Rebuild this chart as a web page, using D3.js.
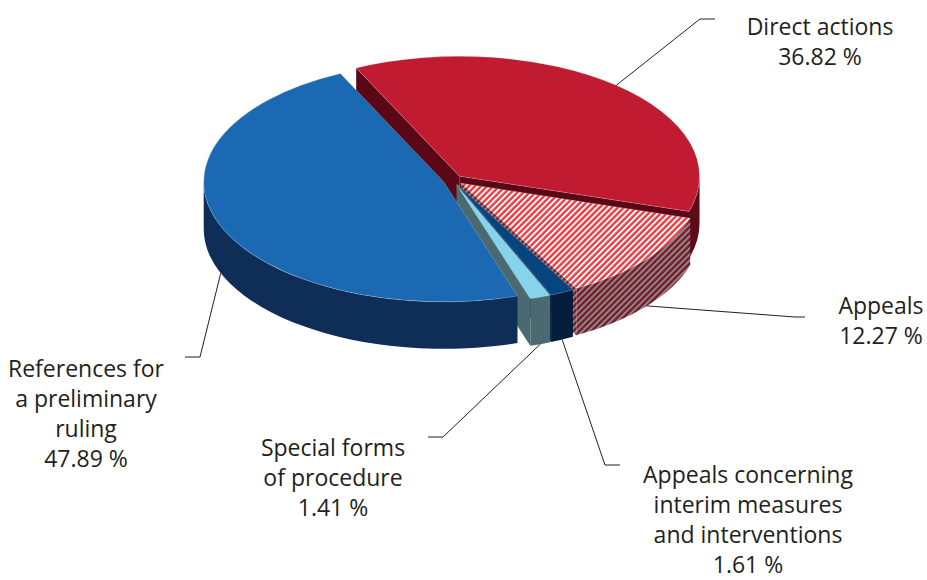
<!DOCTYPE html>
<html>
<head>
<meta charset="utf-8">
<script src="https://cdn.jsdelivr.net/npm/d3@7"></script>
<style>
html,body{margin:0;padding:0;background:#fff;}
svg{display:block;}
text{font-family:"Open Sans","Noto Sans",sans-serif;fill:#231f20;}
</style>
</head>
<body>
<svg id="chart" width="927" height="580"></svg>
<script>
// ---- data ----
const categories = ["Direct actions", "Appeals", "Appeals concerning interim measures and interventions", "Special forms of procedure", "References for a preliminary ruling"];
const values = [36.82, 12.27, 1.61, 1.41, 47.89];
const labelLines = [
  ["Direct actions"],
  ["Appeals"],
  ["Appeals concerning", "interim measures", "and interventions"],
  ["Special forms", "of procedure"],
  ["References for", "a preliminary", "ruling"]
];
const valueLabels = ["36.82 %", "12.27 %", "1.61 %", "1.41 %", "47.89 %"];

// ---- styles / layout (kept apart from data) ----
const topFill = ["#c01b30", "url(#hatchTop)", "#05457f", "#86d4ec", "#1b69b2"];
const sideFill = ["#5d0a19", "url(#hatchSide)", "#061c3c", "#4a6970", "#0f2e57"];
const cutFill = ["#5a0818", "url(#hatchSide)", "#061c3c", "#4a6970", "#0f2e57"];
const labelLayout = [
  {anchor: "top", elbow: [700, 19], end: [715, 19], tx: 820, ty: 35},
  {anchor: "bottom", elbow: [795, 317], end: [805, 317], tx: 881, ty: 314},
  {anchor: "bottom", elbow: [605, 465], end: [620, 465], tx: 748, ty: 483},
  {anchor: "bottom", elbow: [443, 437], end: [428, 437], tx: 333, ty: 456},
  {anchor: "bottom", elbow: [200, 357], end: [185, 357], tx: 86, ty: 377}
];

const cx = 453, cy = 180, R = 240, K = 0.5, H = 47, EXPL = 10;
const startDeg = -25.5;
const lineH = 30;
const fontSize = 23;

const svg = d3.select("#chart");
const defs = svg.append("defs");

function hatch(id, c1, c2, w1, period) {
  const p = defs.append("pattern").attr("id", id)
    .attr("patternUnits", "userSpaceOnUse")
    .attr("width", period).attr("height", period)
    .attr("patternTransform", "rotate(45)");
  p.append("rect").attr("width", period).attr("height", period).attr("fill", c1);
  p.append("rect").attr("width", w1).attr("height", period).attr("fill", c2);
}
hatch("hatchTop", "#ee3a40", "#ffffff", 1.9, 4.3);
hatch("hatchSide", "#7a1626", "#8d8a8a", 2.0, 4.3);

const pie = d3.pie().sort(null).value(d => d)
  .startAngle(startDeg * Math.PI / 180)
  .endAngle(startDeg * Math.PI / 180 + 2 * Math.PI);
const arcs = pie(values);

const explode = d3.scaleLinear().domain([0, 1]).range([0, EXPL]);

arcs.forEach(a => {
  a.mid = (a.startAngle + a.endAngle) / 2;
  a.ox = explode(1) * Math.sin(a.mid);
  a.oy = -explode(1) * K * Math.cos(a.mid);
});

function pt(a, ang, r, dz) {
  return [cx + a.ox + r * Math.sin(ang), cy + a.oy - K * r * Math.cos(ang) + (dz || 0)];
}

function topPath(a) {
  const c = pt(a, 0, 0), p1 = pt(a, a.startAngle, R), p2 = pt(a, a.endAngle, R);
  const large = (a.endAngle - a.startAngle) > Math.PI ? 1 : 0;
  return `M${c}L${p1}A${R},${R * K} 0 ${large} 1 ${p2}Z`;
}
function wallPath(a) {
  const a1 = Math.max(a.startAngle, Math.PI / 2), a2 = Math.min(a.endAngle, 3 * Math.PI / 2);
  if (a2 <= a1) return null;
  const t1 = pt(a, a1, R), t2 = pt(a, a2, R), b2 = pt(a, a2, R, H), b1 = pt(a, a1, R, H);
  const large = (a2 - a1) > Math.PI ? 1 : 0;
  return `M${t1}A${R},${R * K} 0 ${large} 1 ${t2}L${b2}A${R},${R * K} 0 ${large} 0 ${b1}Z`;
}
function cutPath(a, ang) {
  const c = pt(a, 0, 0), o = pt(a, ang, R), ob = pt(a, ang, R, H), cb = pt(a, 0, 0, H);
  return `M${c}L${o}L${ob}L${cb}Z`;
}

const g = svg.append("g");
const cuts = [];
arcs.forEach((a, i) => {
  if (Math.sin(a.startAngle) < 0) cuts.push({a, i, ang: a.startAngle});
  if (Math.sin(a.endAngle) > 0) cuts.push({a, i, ang: a.endAngle});
});
cuts.sort((p, q) => (-Math.cos(p.ang)) - (-Math.cos(q.ang)));
g.selectAll("path.cut").data(cuts).join("path").attr("class", "cut")
  .attr("d", d => cutPath(d.a, d.ang)).attr("fill", d => cutFill[d.i]);

g.selectAll("path.wall").data(arcs.map((a, i) => ({a, i})).filter(d => wallPath(d.a)))
  .join("path").attr("class", "wall")
  .attr("d", d => wallPath(d.a)).attr("fill", d => sideFill[d.i]);

g.selectAll("path.top").data(arcs).join("path").attr("class", "top")
  .attr("d", d => topPath(d)).attr("fill", (d, i) => topFill[i])
  .attr("stroke", "rgba(255,255,255,0.35)").attr("stroke-width", 0.6);

const lg = svg.append("g");
arcs.forEach((a, i) => {
  const L = labelLayout[i];
  const s = L.anchor === "top" ? pt(a, a.mid, R) : pt(a, a.mid, R, H);
  lg.append("polyline")
    .attr("points", [s, L.elbow, L.end].map(p => p.join(",")).join(" "))
    .attr("fill", "none").attr("stroke", "#231f20").attr("stroke-width", 1);
  const lines = labelLines[i].concat([valueLabels[i]]);
  const t = lg.append("text").attr("text-anchor", "middle").attr("font-size", fontSize);
  lines.forEach((ln, j) => {
    t.append("tspan").attr("x", L.tx).attr("y", L.ty + j * lineH).text(ln);
  });
});
</script>
</body>
</html>
